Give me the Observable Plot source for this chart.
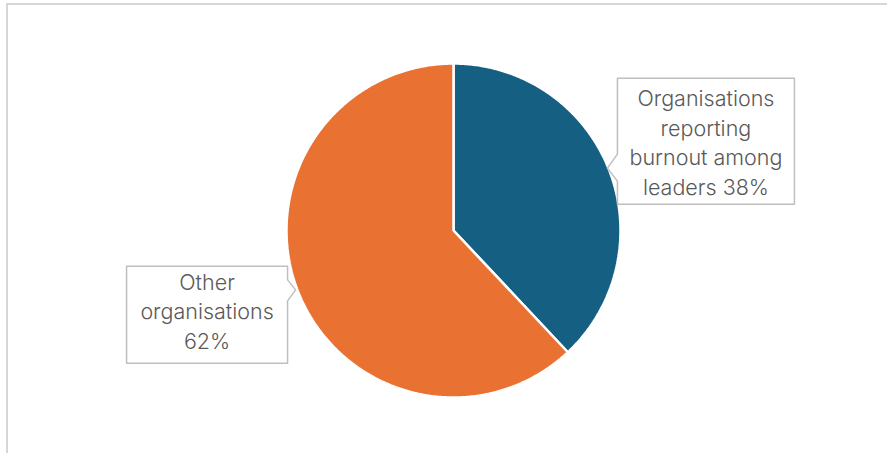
<!DOCTYPE html>
<html>
<head>
<meta charset="utf-8">
<script src="https://cdn.jsdelivr.net/npm/d3@7"></script>
<script src="https://cdn.jsdelivr.net/npm/@observablehq/plot@0.6"></script>
<style>
  html, body { margin: 0; padding: 0; background: #fff; }
  #wrap { position: relative; width: 887px; height: 453px; overflow: hidden; }
  #frame { position: absolute; left: 6px; top: 3px; right: -10px; bottom: -10px;
           border-top: 2px solid #d6d6d6; border-left: 2px solid #d6d6d6; }
  #chart { position: absolute; left: 0; top: 0; }
</style>
</head>
<body>
<div id="wrap"><div id="frame"></div><div id="chart"></div></div>
<script>
// ---- data ----
const categories = ["Organisations reporting burnout among leaders", "Other organisations"];
const values = [38, 62];
const labelTexts = ["Organisations\nreporting\nburnout among\nleaders 38%", "Other\norganisations\n62%"];
const colors = ["#156082", "#E97132"];

// ---- layout ----
const W = 887, H = 453;
const cx = 453, cy = 230, R = 167;
const labelRadius = 1.6;
const labelNudge = [{dx: 4, dy: 9, tdy: 0}, {dx: 2, dy: -14, tdy: -5}];
const boxSize = [{w: 177, h: 126}, {w: 161, h: 97}];

const total = d3.sum(values);
const pie = d3.pie().sort(null).value(d => d)(values);

// slice outlines
const slicePts = [];
pie.forEach((p, i) => {
  const n = Math.max(2, Math.ceil((p.endAngle - p.startAngle) / 0.01));
  slicePts.push({k: i, x: cx, y: cy});
  for (let j = 0; j <= n; j++) {
    const a = p.startAngle + (p.endAngle - p.startAngle) * j / n;
    slicePts.push({k: i, x: cx + R * Math.sin(a), y: cy - R * Math.cos(a)});
  }
});

// label positions
const labels = pie.map((p, i) => {
  const a = (p.startAngle + p.endAngle) / 2;
  return {
    k: i,
    text: labelTexts[i],
    x: cx + labelRadius * R * Math.sin(a) + labelNudge[i].dx,
    y: cy - labelRadius * R * Math.cos(a) + labelNudge[i].dy,
    ty: cy - labelRadius * R * Math.cos(a) + labelNudge[i].dy + labelNudge[i].tdy,
    side: Math.sin(a) > 0 ? "left" : "right"
  };
});

// callout boxes
const boxPts = [];
labels.forEach((l, i) => {
  const {w, h} = boxSize[i];
  const L = l.x - w / 2, Rr = l.x + w / 2, T = l.y - h / 2, B = l.y + h / 2;
  let pts;
  if (l.side === "left") {
    pts = [[L, T], [Rr, T], [Rr, B], [L, B], [L, l.y + 40], [L - 10, l.y + 27], [L, l.y + 13]];
  } else {
    pts = [[L, T], [Rr, T], [Rr, l.y - 35], [Rr + 8, l.y - 25], [Rr, l.y - 14], [Rr, B], [L, B]];
  }
  pts.forEach(([x, y]) => boxPts.push({k: i, x, y}));
});

const chart = Plot.plot({
  width: W, height: H, margin: 0,
  style: {background: "transparent", fontFamily: "Inter, 'Noto Sans', sans-serif"},
  x: {domain: [0, W], range: [0, W], axis: null},
  y: {domain: [0, H], range: [0, H], axis: null},
  marks: [
    Plot.line(slicePts, {x: "x", y: "y", z: "k", fill: d => colors[d.k], stroke: "white", strokeWidth: 2.5, strokeLinejoin: "miter", curve: "linear-closed"}),
    Plot.line(boxPts, {x: "x", y: "y", z: "k", fill: "white", stroke: "#bfbfbf", strokeWidth: 1.5, curve: "linear-closed"}),
    Plot.text(labels, {x: "x", y: "ty", text: "text", fill: "#595959", fontSize: 21.5, lineHeight: 1.37, textAnchor: "middle", fontWeight: 350})
  ]
});
document.getElementById("chart").appendChild(chart);
</script>
</body>
</html>
